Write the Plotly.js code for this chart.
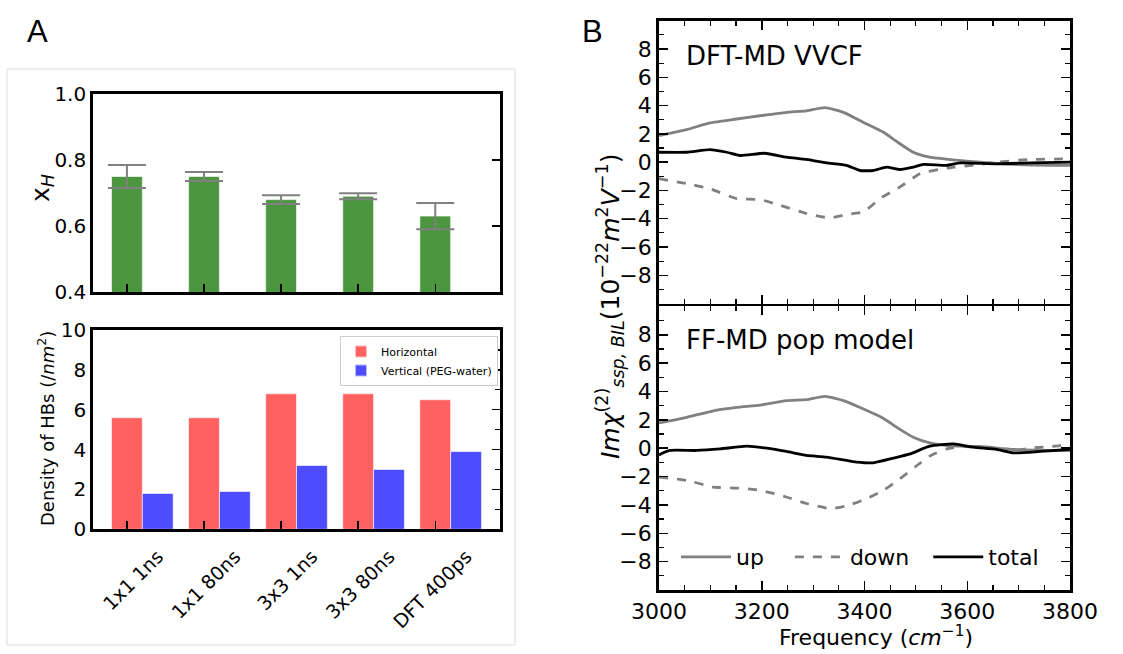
<!DOCTYPE html>
<html>
<head>
<meta charset="utf-8">
<script src="https://cdn.plot.ly/plotly-3.0.1.min.js"></script>
<style>html,body{margin:0;padding:0;background:#fff;}#chart{width:1123px;height:654px;}</style>
</head>
<body>
<div id="chart"></div>
<script>
// ---------- Panel A data ----------
const categories = ["1x1 1ns", "1x1 80ns", "3x3 1ns", "3x3 80ns", "DFT 400ps"];
const xH = [0.75, 0.75, 0.68, 0.69, 0.63];
const xHErr = [0.035, 0.014, 0.013, 0.009, 0.04];
const horizontalHB = [5.6, 5.6, 6.8, 6.8, 6.5];
const verticalHB = [1.8, 1.9, 3.2, 3.0, 3.9];

// ---------- Panel B data (DFT-MD VVCF) ----------
const freqUpDFT = [3000,3054,3099,3151,3197,3248,3287,3323,3359,3398,3437,3463,3495,3527,3573,3625,3690,3800];
const upDFT = [1.88,2.3,2.77,3.05,3.28,3.52,3.63,3.85,3.52,2.81,2.11,1.45,0.7,0.35,0.16,0,-0.16,-0.23];
const freqDownDFT = [3000,3054,3099,3151,3197,3236,3287,3333,3365,3398,3430,3469,3508,3560,3625,3657,3722,3800];
const downDFT = [-1.17,-1.52,-1.88,-2.58,-2.65,-3.05,-3.63,-3.94,-3.7,-3.52,-2.58,-1.76,-0.82,-0.42,-0.16,0,0.19,0.23];
const freqTotalDFT = [3000,3054,3099,3132,3158,3206,3248,3287,3326,3365,3391,3417,3443,3469,3495,3515,3560,3586,3657,3722,3800];
const totalDFT = [0.7,0.7,0.89,0.7,0.47,0.63,0.35,0.19,-0.05,-0.23,-0.59,-0.59,-0.35,-0.52,-0.35,-0.16,-0.23,-0.05,-0.12,-0.05,0];

// ---------- Panel B data (FF-MD pop model) ----------
const freqUpFF = [3000,3054,3106,3151,3197,3248,3287,3323,3359,3398,3437,3463,3495,3527,3560,3625,3690,3800];
const upFF = [1.78,2.18,2.64,2.88,3.04,3.35,3.42,3.65,3.35,2.76,2.1,1.47,0.77,0.37,0.19,0.12,-0.09,-0.16];
const freqDownFF = [3000,3054,3106,3151,3197,3248,3287,3333,3365,3404,3437,3469,3502,3527,3560,3592,3625,3690,3722,3800];
const downFF = [-2.04,-2.27,-2.74,-2.81,-2.97,-3.44,-3.9,-4.26,-4.07,-3.56,-2.97,-2.15,-1.22,-0.56,-0.05,0.12,0.07,-0.16,0,0.23];
const freqTotalFF = [3000,3021,3073,3119,3171,3210,3248,3287,3326,3385,3417,3456,3489,3527,3573,3612,3657,3690,3742,3800];
const totalFF = [-0.47,-0.16,-0.16,-0.05,0.14,0,-0.23,-0.51,-0.63,-0.98,-1.03,-0.7,-0.4,0.14,0.3,0.07,-0.09,-0.33,-0.23,-0.09];

const yTicksB = [-8,-6,-4,-2,0,2,4,6,8];
const xTicksB = [3000,3200,3400,3600,3800];
const legendNamesB = ["up", "down", "total"];

const idx = categories.map((c, i) => i);
const W = 1123, H = 654;
const px = v => v / W;
const py = v => 1 - v / H;
const pad = (s, n) => s + "\u00a0".repeat(n);

const FONT = "DejaVu Sans";
const GREY = "#808080";
const lineCommon = {mode: "lines", line: {shape: "spline", smoothing: 0.5, width: 2.8}};

const traces = [
  {type: "bar", x: idx, y: xH, width: 0.4, xaxis: "x", yaxis: "y", showlegend: false,
   marker: {color: "#4c9640", line: {color: "rgba(255,255,255,0.6)", width: 1}},
   error_y: {type: "data", array: xHErr, visible: true, color: GREY, thickness: 2, width: 19}},
  {type: "bar", x: idx, y: horizontalHB, width: 0.4, offset: -0.2, name: "Horizontal",
   xaxis: "x2", yaxis: "y2", legend: "legend",
   marker: {color: "#ff6060", line: {color: "rgba(255,255,255,0.6)", width: 1}}},
  {type: "bar", x: idx, y: verticalHB, width: 0.4, offset: 0.2, name: "Vertical (PEG-water)",
   xaxis: "x2", yaxis: "y2", legend: "legend",
   marker: {color: "#4d4dff", line: {color: "rgba(255,255,255,0.6)", width: 1}}},
  // right-side tick carriers for panel A
  {type: "scatter", x: [], y: [], xaxis: "x", yaxis: "y5", showlegend: false, hoverinfo: "skip"},
  {type: "scatter", x: [], y: [], xaxis: "x2", yaxis: "y6", showlegend: false, hoverinfo: "skip"},
  // Panel B top
  Object.assign({}, lineCommon, {x: freqUpDFT, y: upDFT, xaxis: "x3", yaxis: "y3", showlegend: false,
    line: Object.assign({}, lineCommon.line, {color: GREY})}),
  Object.assign({}, lineCommon, {x: freqDownDFT, y: downDFT, xaxis: "x3", yaxis: "y3", showlegend: false,
    line: Object.assign({}, lineCommon.line, {color: GREY, dash: "dash"})}),
  Object.assign({}, lineCommon, {x: freqTotalDFT, y: totalDFT, xaxis: "x3", yaxis: "y3", showlegend: false,
    line: Object.assign({}, lineCommon.line, {color: "black"})}),
  // Panel B bottom
  Object.assign({}, lineCommon, {x: freqUpFF, y: upFF, xaxis: "x4", yaxis: "y4", name: pad(legendNamesB[0], 3), legend: "legend2",
    line: Object.assign({}, lineCommon.line, {color: GREY})}),
  Object.assign({}, lineCommon, {x: freqDownFF, y: downFF, xaxis: "x4", yaxis: "y4", name: pad(legendNamesB[1], 2), legend: "legend2",
    line: Object.assign({}, lineCommon.line, {color: GREY, dash: "dash"})}),
  Object.assign({}, lineCommon, {x: freqTotalFF, y: totalFF, xaxis: "x4", yaxis: "y4", name: legendNamesB[2], legend: "legend2",
    line: Object.assign({}, lineCommon.line, {color: "black"})})
];

const axA = {showline: true, linecolor: "black", linewidth: 2.8, mirror: true, zeroline: false, showgrid: false,
  range: [-0.44, 4.84], tickmode: "array", tickvals: idx, ticks: "inside", ticklen: 8, tickwidth: 1.5,
  tickcolor: "black", fixedrange: true};
const domXA = [px(93), px(500)];
const domXB = [px(659), px(1070)];

const axBx = {showline: true, linecolor: "black", linewidth: 2.8, mirror: "allticks", zeroline: false, showgrid: false,
  range: [3000, 3800], tickmode: "array", tickvals: xTicksB, ticks: "inside", ticklen: 9, tickwidth: 1.5,
  tickcolor: "black", domain: domXB, tickfont: {family: FONT, size: 22, color: "black"},
  minor: {dtick: 50, tick0: 3000, ticks: "inside", ticklen: 5, tickwidth: 1.2, tickcolor: "black"}};
const axBy = {showline: true, linecolor: "black", linewidth: 2.8, mirror: "allticks", zeroline: false, showgrid: false,
  range: [-10, 10], tickmode: "array", tickvals: yTicksB, ticks: "inside", ticklen: 9, tickwidth: 1.5,
  tickcolor: "black", tickfont: {family: FONT, size: 22, color: "black"},
  minor: {dtick: 1, tick0: 0, ticks: "inside", ticklen: 5, tickwidth: 1.2, tickcolor: "black"}};

const layout = {
  width: W, height: H, margin: {l: 0, r: 0, t: 0, b: 0},
  paper_bgcolor: "white", plot_bgcolor: "white",
  font: {family: FONT, color: "black"},
  barmode: "overlay",
  xaxis: Object.assign({}, axA, {domain: domXA, anchor: "y", showticklabels: false}),
  yaxis: {domain: [py(292), py(94)], anchor: "x", range: [0.4, 1.0], tickmode: "array",
    tickvals: [0.4, 0.6, 0.8, 1.0], ticktext: ["0.4", "0.6", "0.8", "1.0"],
    showline: true, linecolor: "black", linewidth: 2.8, mirror: true, zeroline: false, showgrid: false,
    ticks: "", tickfont: {family: FONT, size: 20}, fixedrange: true},
  yaxis5: {overlaying: "y", side: "right", range: [0.4, 1.0], tickmode: "array", tickvals: [0.6, 0.8],
    showticklabels: false, ticks: "inside", ticklen: 8, tickwidth: 1.5, tickcolor: "black",
    showline: false, zeroline: false, showgrid: false, fixedrange: true},
  xaxis2: Object.assign({}, axA, {domain: domXA, anchor: "y2", ticktext: categories, tickangle: -45,
    ticklabelshift: 31, ticklabelstandoff: 6, tickfont: {family: FONT, size: 19}}),
  yaxis2: {domain: [py(529.3), py(330)], anchor: "x2", range: [0, 10], tickmode: "array",
    tickvals: [0, 2, 4, 6, 8, 10], showline: true, linecolor: "black", linewidth: 2.8, mirror: true,
    zeroline: false, showgrid: false, ticks: "", tickfont: {family: FONT, size: 20}, fixedrange: true},
  yaxis6: {overlaying: "y2", side: "right", range: [0, 10], tickmode: "array", tickvals: [2, 4, 6, 8],
    showticklabels: false, ticks: "inside", ticklen: 8, tickwidth: 1.5, tickcolor: "black",
    minor: {tickmode: "array", tickvals: [1, 3, 5, 7, 9], ticks: "inside", ticklen: 5, tickwidth: 1.2, tickcolor: "black"},
    showline: false, zeroline: false, showgrid: false, fixedrange: true},
  xaxis3: Object.assign({}, axBx, {anchor: "y3", showticklabels: false}),
  yaxis3: Object.assign({}, axBy, {domain: [py(303.6), py(20.7)], anchor: "x3"}),
  xaxis4: Object.assign({}, axBx, {anchor: "y4"}),
  yaxis4: Object.assign({}, axBy, {domain: [py(590), py(306.4)], anchor: "x4"}),
  legend: {x: px(340), y: py(336), xanchor: "left", yanchor: "top", bgcolor: "white",
    bordercolor: "#cccccc", borderwidth: 1, font: {family: FONT, size: 11}, tracegroupgap: 0,
    itemsizing: "constant"},
  legend2: {x: px(676), y: py(557), xanchor: "left", yanchor: "middle", orientation: "h",
    bgcolor: "rgba(0,0,0,0)", borderwidth: 0, font: {family: FONT, size: 22}, itemwidth: 50},
  shapes: [
    {type: "rect", xref: "paper", yref: "paper", x0: px(7), x1: px(515), y0: py(645), y1: py(69),
     line: {color: "#dcdcdc", width: 1}, fillcolor: "rgba(0,0,0,0)", layer: "below"}
  ],
  annotations: [
    {text: "A", xref: "paper", yref: "paper", x: px(37), y: py(31), showarrow: false,
     font: {family: "Liberation Sans", size: 31}, xanchor: "center", yanchor: "middle"},
    {text: "B", xref: "paper", yref: "paper", x: px(592), y: py(31), showarrow: false,
     font: {family: "Liberation Sans", size: 31}, xanchor: "center", yanchor: "middle"},
    {text: "x<sub><i>H</i></sub>", xref: "paper", yref: "paper", x: px(42), y: py(188), showarrow: false,
     textangle: -90, font: {family: FONT, size: 25}, xanchor: "center", yanchor: "middle"},
    {text: "Density of HBs (/<i>nm</i><sup>2</sup>)", xref: "paper", yref: "paper", x: px(46), y: py(428),
     showarrow: false, textangle: -90, font: {family: FONT, size: 18}, xanchor: "center", yanchor: "middle"},
    {text: "DFT-MD VVCF", xref: "paper", yref: "paper", x: px(684), y: py(56), showarrow: false,
     font: {family: FONT, size: 26}, xanchor: "left", yanchor: "middle"},
    {text: "FF-MD pop model", xref: "paper", yref: "paper", x: px(684), y: py(340), showarrow: false,
     font: {family: FONT, size: 26}, xanchor: "left", yanchor: "middle"},
    {text: "<i>Im</i><i>χ</i><sup>(2)</sup><sub><i>ssp, BIL</i></sub>(10<sup>−22</sup><i>m</i><sup>2</sup><i>V</i><sup>−1</sup>)",
     xref: "paper", yref: "paper", x: px(610), y: py(307), showarrow: false, textangle: -90,
     font: {family: FONT, size: 25}, xanchor: "center", yanchor: "middle"},
    {text: "Frequency (<i>cm</i><sup>−1</sup>)", xref: "paper", yref: "paper", x: px(876), y: py(636),
     showarrow: false, font: {family: FONT, size: 22}, xanchor: "center", yanchor: "middle"}
  ]
};

Plotly.newPlot("chart", traces, layout, {displayModeBar: false, staticPlot: true});
</script>
</body>
</html>
